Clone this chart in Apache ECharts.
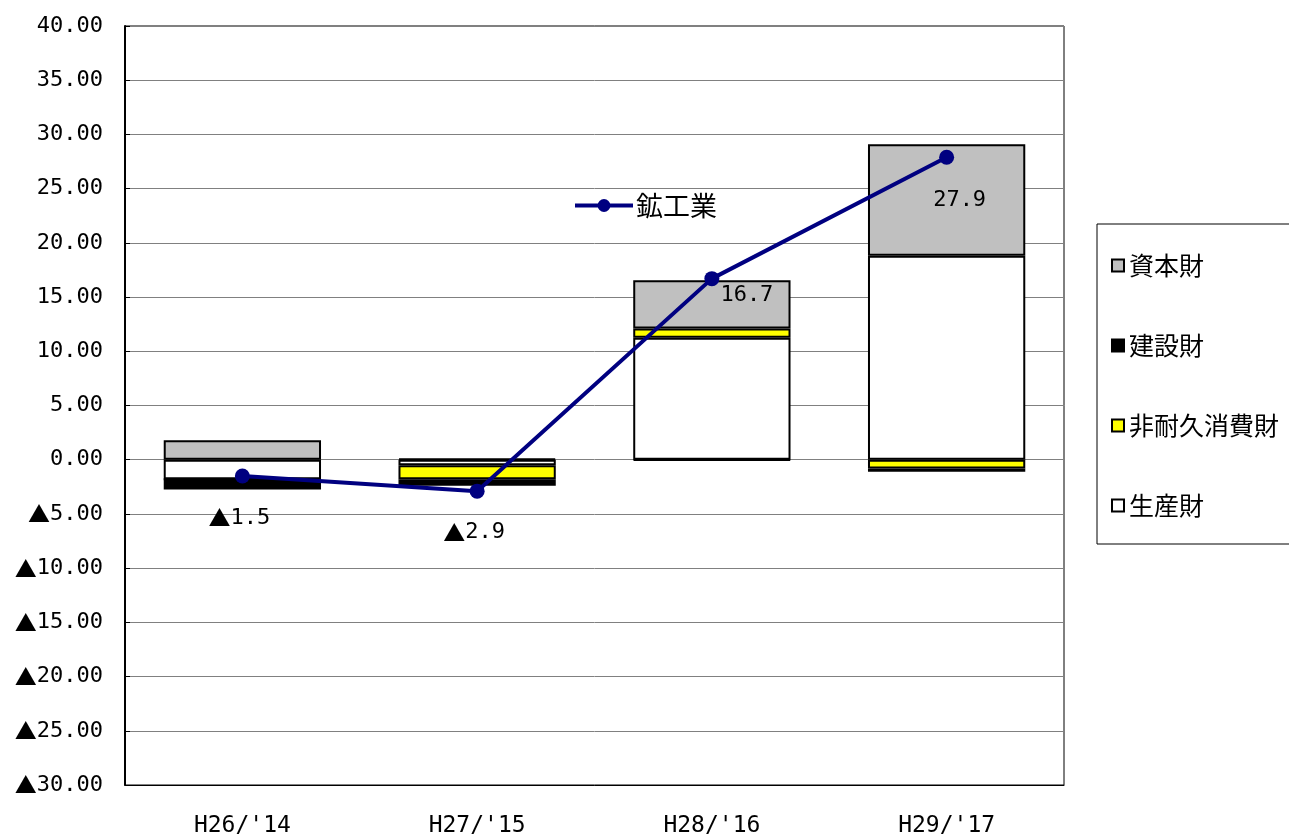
<!DOCTYPE html>
<html><head><meta charset="utf-8">
<script src="https://cdn.jsdelivr.net/npm/echarts@6/dist/echarts.min.js"></script>
<style>html,body{margin:0;padding:0;background:#fff}#c{width:1289px;height:838px}</style>
</head><body><div id="c"></div>
<script>
const categories = ["H26/'14", "H27/'15", "H28/'16", "H29/'17"];
const seisanzai = [-1.8, -0.5, 11.25, 18.8];
const hitaikyu = [0, -1.3, 0.85, -0.8];
const kensetsu = [-0.95, -0.6, -0.05, -0.3];
const shihonzai = [1.8, 0.1, 4.45, 10.3];
const kokogyo = [-1.5, -2.9, 16.7, 27.9];
const labelOffsets = [[-3, 42], [-3, 41], [35, 17], [13, 43]];

const numFont = "'DejaVu Sans Mono', monospace";
const cjkFont = "'Noto Sans CJK JP', sans-serif";
function fmt(v, d) { return v < 0 ? '{t|▲}' + Math.abs(v).toFixed(d) : v.toFixed(d); }
const richTri = { t: { fontFamily: cjkFont, fontSize: 22, color: '#000' } };

const chart = echarts.init(document.getElementById('c'));
function barSeries(name, data, color) {
  return { name, type: 'bar', stack: 'g', data, barWidth: '67%',
    itemStyle: { color, borderColor: '#000', borderWidth: 2 }, z: 2 };
}
chart.setOption({
  animation: false,
  grid: { left: 125, right: 225, top: 26, bottom: 52, show: true, borderColor: '#000', borderWidth: 1, backgroundColor: 'transparent' },
  legend: [
    { data: ['資本財', '建設財', '非耐久消費財', '生産財'], orient: 'vertical', left: 1097, top: 224,
      width: 200, padding: [29, 40, 26, 14], itemGap: 55, itemWidth: 12, itemHeight: 12, icon: 'rect',
      borderColor: '#000', borderWidth: 1, textStyle: { fontFamily: cjkFont, fontSize: 25, color: '#000', padding: [0, 0, 0, 0] } },
    { data: ['鉱工業'], left: 568, top: 187, itemWidth: 58, itemHeight: 16,
      lineStyle: { width: 4 },
      textStyle: { fontFamily: cjkFont, fontSize: 27, color: '#000', padding: [0, 0, 0, -2] } }
  ],
  xAxis: { type: 'category', data: categories,
    axisLine: { onZero: false, lineStyle: { color: '#000', width: 1 } }, axisTick: { show: false },
    axisLabel: { color: '#000', fontFamily: numFont, fontSize: 23, margin: 30 } },
  yAxis: { type: 'value', min: -30, max: 40, interval: 5,
    axisLine: { show: true, lineStyle: { color: '#000', width: 2 } },
    axisTick: { show: true, inside: true, length: 5, lineStyle: { color: '#000' } },
    splitLine: { lineStyle: { color: '#808080', width: 1 } },
    axisLabel: { color: '#000', fontFamily: numFont, fontSize: 22, margin: 22, rich: richTri, formatter: v => fmt(v, 2) } },
  series: [
    barSeries('生産財', seisanzai, '#FFFFFF'),
    barSeries('非耐久消費財', hitaikyu, '#FFFF00'),
    barSeries('建設財', kensetsu, '#000000'),
    barSeries('資本財', shihonzai, '#C0C0C0'),
    { name: '鉱工業', type: 'line', z: 5,
      data: kokogyo.map((v, i) => ({ value: v, label: { offset: labelOffsets[i] } })),
      symbol: 'circle', symbolSize: 15,
      lineStyle: { color: '#000080', width: 4 }, itemStyle: { color: '#000080' },
      label: { show: true, position: 'inside', color: '#000', fontFamily: numFont, fontSize: 22, rich: richTri,
        formatter: p => fmt(p.value, 1) } }
  ]
});
</script></body></html>
